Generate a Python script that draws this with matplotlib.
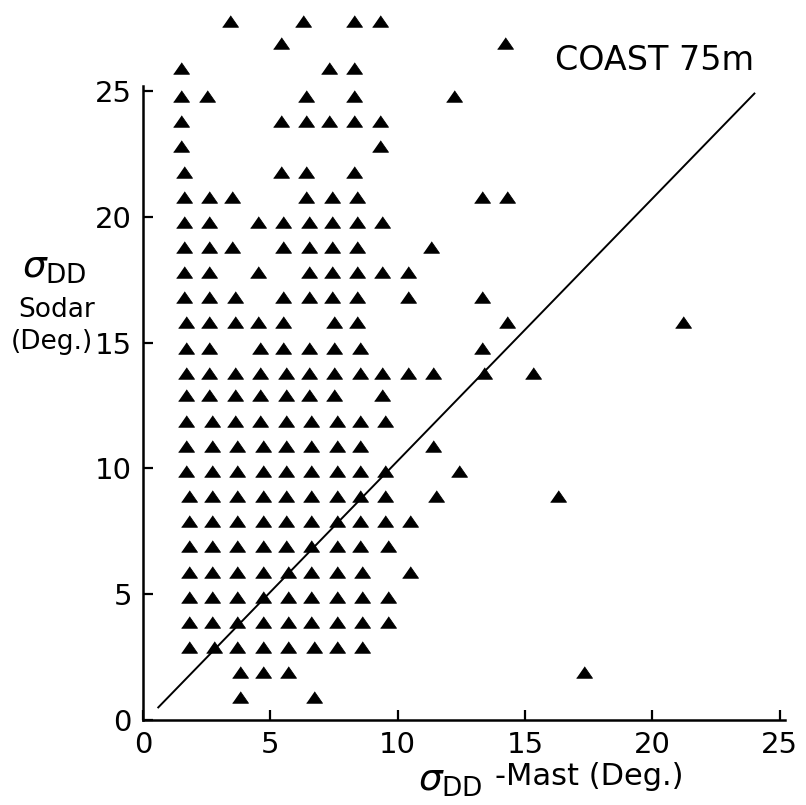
import matplotlib
matplotlib.use('Agg')
import matplotlib.pyplot as plt

plt.rcParams['font.family'] = ['DejaVu Sans']
plt.rcParams['mathtext.fontset'] = 'dejavusans'

# sigma_DD from the mast (x) and from the sodar (y), in degrees, read row by row
mast_deg = [
    3.4, 6.3, 8.3, 9.3,
    5.4, 14.2,
    1.5, 7.3, 8.3,
    1.5, 2.5, 6.4, 8.3, 12.2,
    1.5, 5.4, 6.4, 7.3, 8.3, 9.3,
    1.5, 9.3,
    1.6, 5.4, 6.4, 8.3,
    1.6, 2.6, 3.5, 6.4, 7.4, 8.4, 13.3, 14.3,
    1.6, 2.6, 4.5, 5.5, 6.5, 7.4, 8.4, 9.4,
    1.6, 2.6, 3.5, 5.5, 6.5, 7.4, 8.4, 11.3,
    1.6, 2.6, 4.5, 6.5, 7.4, 8.4, 9.4, 10.4,
    1.6, 2.6, 3.6, 5.5, 6.5, 7.4, 8.4, 10.4, 13.3,
    1.7, 2.6, 3.6, 4.5, 5.5, 7.5, 8.4, 14.3, 21.2,
    1.7, 2.6, 4.6, 5.5, 6.5, 7.5, 8.5, 13.3,
    1.7, 2.6, 3.6, 4.6, 5.6, 6.5, 7.5, 8.5, 9.4, 10.4, 11.4, 13.4, 15.3,
    1.7, 2.6, 3.6, 4.6, 5.6, 6.5, 7.5, 9.4,
    1.7, 2.7, 3.6, 4.6, 5.6, 6.6, 7.6, 8.5, 9.5,
    1.7, 2.7, 3.7, 4.7, 5.6, 6.6, 7.6, 8.5, 11.4,
    1.7, 2.7, 3.7, 4.7, 5.6, 6.6, 7.6, 8.5, 9.5, 12.4,
    1.8, 2.7, 3.7, 4.7, 5.6, 6.6, 7.6, 8.5, 9.5, 11.5, 16.3,
    1.8, 2.7, 3.7, 4.7, 5.6, 6.6, 7.6, 8.5, 9.5, 10.5,
    1.8, 2.7, 3.7, 4.7, 5.6, 6.6, 7.6, 8.5, 9.6,
    1.8, 2.7, 3.7, 4.7, 5.7, 6.6, 7.6, 8.6, 10.5,
    1.8, 2.7, 3.7, 4.7, 5.7, 6.6, 7.6, 8.6, 9.6,
    1.8, 2.7, 3.7, 4.7, 5.7, 6.6, 7.6, 8.6, 9.6,
    1.8, 2.8, 3.7, 4.7, 5.7, 6.7, 7.6, 8.6,
    3.8, 4.7, 5.7, 17.3,
    3.8, 6.7,
]
sodar_deg = (
    [27.8] * 4 + [26.9] * 2 + [25.9] * 3 + [24.8] * 5 + [23.8] * 6 + [22.8] * 2
    + [21.8] * 4 + [20.8] * 8 + [19.8] * 8 + [18.8] * 8 + [17.8] * 8 + [16.8] * 9
    + [15.8] * 9 + [14.8] * 8 + [13.8] * 13 + [12.9] * 8 + [11.9] * 9 + [10.9] * 9
    + [9.9] * 10 + [8.9] * 11 + [7.9] * 10 + [6.9] * 9 + [5.9] * 9 + [4.9] * 9
    + [3.9] * 9 + [2.9] * 8 + [1.9] * 4 + [0.9] * 2
)

# reference line drawn on the chart
line_x = [0.6, 24.0]
line_y = [0.5, 24.9]

ticks = [0, 5, 10, 15, 20, 25]

fig = plt.figure(figsize=(8.06, 8.05), dpi=100)
ax = fig.add_axes([0.1774, 0.1056, 0.7965, 0.7876])

tri = [(-1, -0.72), (1, -0.72), (0, 0.72)]
ax.plot(mast_deg, sodar_deg, linestyle='none', marker=tri, markersize=11.5,
        color='black', markeredgewidth=0.6, clip_on=False)
ax.plot(line_x, line_y, color='black', linewidth=1.4, clip_on=False)

ax.set_xlim(0, 25.2)
ax.set_ylim(0, 25.2)
ax.set_xticks(ticks)
ax.set_yticks(ticks)
ax.tick_params(direction='in', length=7, width=1.6, labelsize=21, pad=8)
for side in ['top', 'right']:
    ax.spines[side].set_visible(False)
for side in ['left', 'bottom']:
    ax.spines[side].set_linewidth(1.8)

# y label, three lines left of the axis
fig.text(0.068, 0.667, r'$\sigma_{\rm DD}$', fontsize=27, ha='center', va='center')
fig.text(0.070, 0.615, 'Sodar', fontsize=19, ha='center', va='center')
fig.text(0.064, 0.575, '(Deg.)', fontsize=19, ha='center', va='center')

# x label
fig.text(0.519, 0.030, r'$\sigma_{\rm DD}$', fontsize=27, ha='left', va='center')
fig.text(0.614, 0.036, '-Mast (Deg.)', fontsize=22, ha='left', va='center')

fig.text(0.689, 0.913, 'COAST 75m', fontsize=24, ha='left', va='baseline')

fig.savefig('out.png', dpi=100)
